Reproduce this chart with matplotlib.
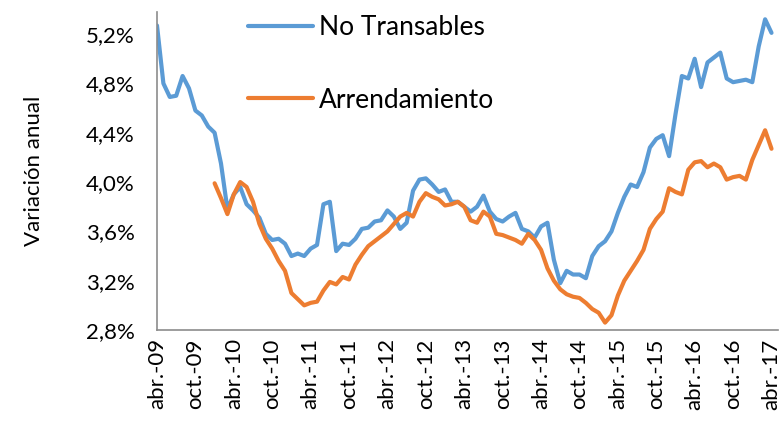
import matplotlib
matplotlib.use("Agg")
import matplotlib.pyplot as plt
import numpy as np

plt.rcParams["font.family"] = ["Lato", "DejaVu Sans"]

# Monthly values, abr-09 .. abr-17 (annual variation, %)
no_transables = [
    5.27, 4.80, 4.69, 4.70, 4.86, 4.76, 4.58, 4.54, 4.45, 4.40,
    4.15, 3.78, 3.90, 3.96, 3.82, 3.77, 3.71, 3.58, 3.53, 3.54,
    3.50, 3.40, 3.42, 3.40, 3.46, 3.49, 3.82, 3.84, 3.44, 3.50,
    3.49, 3.54, 3.62, 3.63, 3.68, 3.69, 3.77, 3.72, 3.62, 3.67,
    3.93, 4.02, 4.03, 3.98, 3.92, 3.94, 3.84, 3.84, 3.80, 3.76,
    3.80, 3.89, 3.76, 3.70, 3.68, 3.72, 3.75, 3.62, 3.60, 3.55,
    3.64, 3.67, 3.37, 3.18, 3.28, 3.25, 3.25, 3.22, 3.40, 3.48,
    3.52, 3.60, 3.75, 3.88, 3.98, 3.96, 4.08, 4.28, 4.35, 4.38,
    4.21, 4.55, 4.86, 4.84, 5.00, 4.77, 4.97, 5.01, 5.05, 4.84,
    4.81, 4.82, 4.83, 4.81, 5.10, 5.32, 5.21,
]
# starts in ene-10
arrendamiento = [np.nan] * 9 + [
    3.99, 3.87, 3.74, 3.90, 4.00, 3.96, 3.84, 3.66, 3.54, 3.46,
    3.36, 3.28, 3.10, 3.05, 3.00, 3.02, 3.03, 3.12, 3.19, 3.17,
    3.23, 3.21, 3.33, 3.41, 3.48, 3.52, 3.56, 3.60, 3.66, 3.72,
    3.75, 3.72, 3.84, 3.91, 3.88, 3.86, 3.81, 3.82, 3.84, 3.80,
    3.69, 3.67, 3.76, 3.72, 3.58, 3.57, 3.55, 3.53, 3.50, 3.58,
    3.53, 3.45, 3.30, 3.20, 3.13, 3.09, 3.07, 3.06, 3.02, 2.97,
    2.94, 2.86, 2.92, 3.08, 3.20, 3.28, 3.36, 3.45, 3.62, 3.70,
    3.76, 3.95, 3.92, 3.90, 4.10, 4.16, 4.17, 4.12, 4.15, 4.12,
    4.02, 4.04, 4.05, 4.02, 4.18, 4.30, 4.42, 4.27,
]
tick_labels = ["abr.-09", "oct.-09", "abr.-10", "oct.-10", "abr.-11", "oct.-11",
               "abr.-12", "oct.-12", "abr.-13", "oct.-13", "abr.-14", "oct.-14",
               "abr.-15", "oct.-15", "abr.-16", "oct.-16", "abr.-17"]
y_ticks = [2.8, 3.2, 3.6, 4.0, 4.4, 4.8, 5.2]

months = np.arange(len(no_transables))

fig = plt.figure(figsize=(7.83, 4.25), dpi=100)
ax = fig.add_axes([0.2005, 0.2235, 0.793, 0.7485])

ax.plot(months, no_transables, color="#5B9BD5", lw=3, solid_joinstyle="round",
        solid_capstyle="round", label="No Transables")
ax.plot(months, arrendamiento, color="#ED7D31", lw=3, solid_joinstyle="round",
        solid_capstyle="round", label="Arrendamiento")

ax.set_xlim(0, 97)
ax.set_ylim(2.8, 5.38)
ax.set_xticks(np.arange(0, 97, 6))
ax.set_xticklabels(tick_labels, rotation=90, fontsize=16, color="#000000")
ax.set_yticks(y_ticks)
ax.set_yticklabels([f"{v:.1f}%".replace(".", ",") for v in y_ticks], fontsize=16)
ax.tick_params(length=0, pad=6)
ax.tick_params(axis="y", pad=16)
ax.set_ylabel("Variación anual", fontsize=16, labelpad=30)

for side in ["top", "right"]:
    ax.spines[side].set_visible(False)
for side in ["left", "bottom"]:
    ax.spines[side].set_color("#8C8C8C")
    ax.spines[side].set_linewidth(1.2)

ax.legend(loc="upper left", bbox_to_anchor=(248 / 783, 1 - 15 / 425),
          bbox_transform=fig.transFigure, frameon=False, fontsize=19,
          handlelength=2.45, handletextpad=0.25, labelspacing=1.8,
          borderpad=0, borderaxespad=0)

fig.savefig("out.png", dpi=100)
